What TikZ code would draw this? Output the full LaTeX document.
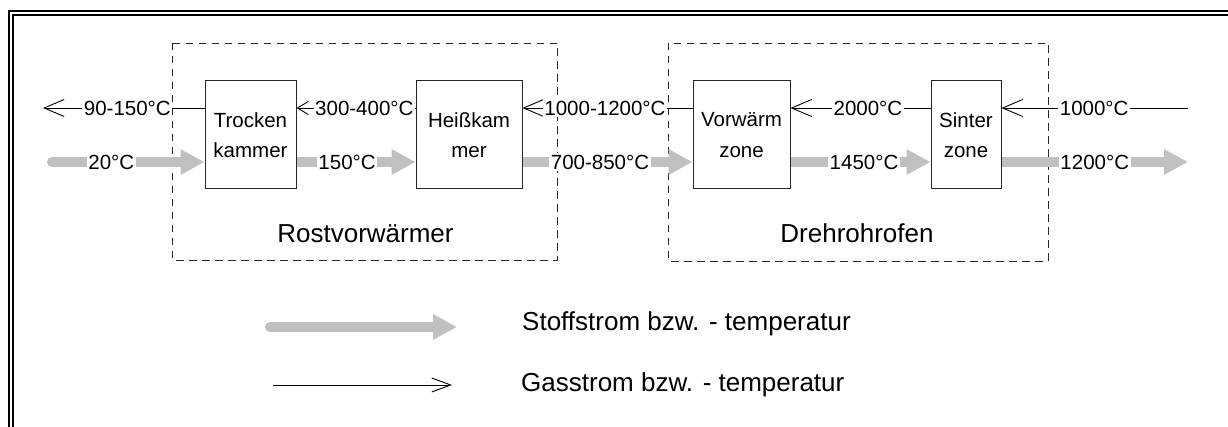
\documentclass[tikz,border=0pt]{standalone}
\usepackage{fontspec}
\setmainfont{Liberation Sans}
\usetikzlibrary{arrows.meta}
\definecolor{matgray}{RGB}{192,192,192}
\begin{document}
\begin{tikzpicture}[x=1pt,y=-1pt,
  box/.style={draw=black!85, line width=1pt, minimum height=108pt, align=center, inner sep=0pt, font=\fontsize{20.5}{30.5}\selectfont},
  group/.style={draw=black!85, line width=0.9pt, dash pattern=on 7.5pt off 5.5pt},
  gas/.style={draw=black, line width=0.9pt, -{Straight Barb[length=20pt,width=17pt]}},
  gasshort/.style={draw=black, line width=0.9pt, -{Straight Barb[length=11pt,width=13pt]}},
  mat/.style={draw=matgray, line width=10pt, -{Triangle[length=24pt,width=24pt]}},
  lbl/.style={fill=white, inner sep=1.5pt, font=\fontsize{20.5}{24}\selectfont, text=black},
  big/.style={font=\fontsize{26}{30}\selectfont, inner sep=0pt},
]
\useasboundingbox (0,0) rectangle (1228,427);
\fill[white] (0,0) rectangle (1228,427);
% frame
\draw[line width=2.5pt] (9,430) -- (9,11) -- (1230,11);
\draw[line width=1.5pt] (13,430) -- (13,15) -- (1230,15);
% group boxes
\draw[group] (172,43) rectangle (557,260);
\draw[group] (668,43) rectangle (1048,261);
\node[big, anchor=base] (rost) at (365.5,242.5) {Rostvorwärmer};
\node[big, anchor=base] (dreh) at (857,243) {Drehrohrofen};
% process boxes
\node[box, minimum width=91pt] (trock) at (250.5,135) {Trocken\\kammer};
\node[box, minimum width=106pt] (heiss) at (469,135) {Heißkam\\mer};
\node[box, minimum width=97pt] (vorw) at (741.5,135) {Vorwärm\\zone};
\node[box, minimum width=70pt] (sinter) at (966,135) {Sinter\\zone};
% helper coordinates
\coordinate (gasy) at (0,108);
\coordinate (maty) at (0,162);
\coordinate (gasL) at (43,108);
\coordinate (gasR) at (1188,108);
\coordinate (matL) at (52,162);
\coordinate (matR) at (1188,162);
% gas flow (right to left)
\draw[gas] (trock.west |- gasy) -- node[lbl, pos=0.478] {90-150°C} (gasL);
\draw[gasshort] (heiss.west |- gasy) -- node[lbl, pos=0.43] {300-400°C} (trock.east |- gasy);
\draw[gas] (vorw.west |- gasy) -- node[lbl, pos=0.515] {1000-1200°C} (heiss.east |- gasy);
\draw[gas] (sinter.west |- gasy) -- node[lbl, pos=0.447] {2000°C} (vorw.east |- gasy);
\draw[gas] (gasR) -- node[lbl, pos=0.503] {1000°C} (sinter.east |- gasy);
% material flow (left to right)
\draw[mat, line cap=round] (matL) -- node[lbl, pos=0.389] {20°C} (trock.west |- maty);
\draw[mat] (trock.east |- maty) -- node[lbl, pos=0.425] {150°C} (heiss.west |- maty);
\draw[mat] (heiss.east |- maty) -- node[lbl, pos=0.456] {700-850°C} (vorw.west |- maty);
\draw[mat] (vorw.east |- maty) -- node[lbl, pos=0.525] {1450°C} (sinter.west |- maty);
\draw[mat] (sinter.east |- maty) -- node[lbl, pos=0.5] {1200°C} (matR);
% legend
\coordinate (lm1) at (270,327);
\coordinate (lm2) at (457,327);
\draw[mat, line cap=round] (lm1) -- (lm2);
\node[big, anchor=base west] (lt1) at (522,330.7) {Stoffstrom bzw. - temperatur};
\coordinate (lg1) at (273,385);
\coordinate (lg2) at (452,385);
\draw[draw=black, line width=0.9pt, -{Straight Barb[length=19pt,width=14pt]}] (lg1) -- (lg2);
\node[big, anchor=base west] (lt2) at (521,391.7) {Gasstrom bzw. - temperatur};
\end{tikzpicture}
\end{document}
